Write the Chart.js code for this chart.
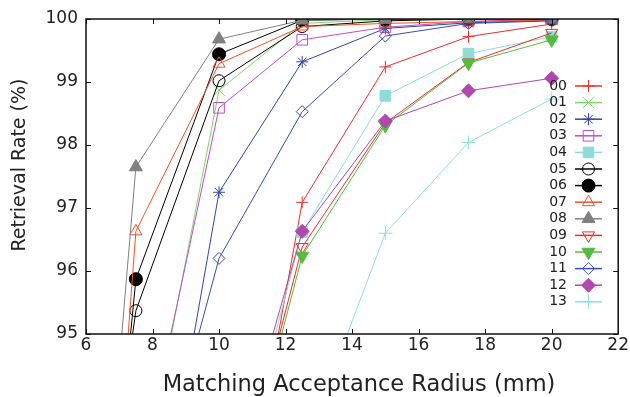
<!DOCTYPE html>
<html>
<head>
<meta charset="utf-8">
<script src="https://cdn.jsdelivr.net/npm/chart.js@4.4.1/dist/chart.umd.min.js"></script>
<style>
  html, body { margin: 0; padding: 0; background: #fff; }
  #wrap { width: 630px; height: 397px; }
</style>
</head>
<body>
<div id="wrap"><canvas id="chart" width="630" height="397"></canvas></div>
<script>
'use strict';

// ── Data ───────────────────────────────────────────────────────────────────
var radius = [5, 7.5, 10, 12.5, 15, 17.5, 20];
var seriesNames = ['00', '01', '02', '03', '04', '05', '06', '07', '08', '09', '10', '11', '12', '13'];

var s00 = [72, 81, 89.8, 97.09, 99.24, 99.72, 99.92];
var s01 = [80, 92.1, 98.87, 99.93, 99.99, 100, 100];
var s02 = [78, 89.75, 97.25, 99.32, 99.85, 99.94, 99.98];
var s03 = [82, 92.4, 98.59, 99.67, 99.87, 99.96, 100];
var s04 = [70, 82, 91.6, 96.62, 98.78, 99.45, 99.72];
var s05 = [86, 95.37, 99.02, 99.88, 99.97, 100, 100];
var s06 = [82.3, 95.87, 99.44, 99.98, 100, 100, 100];
var s07 = [79, 96.63, 99.29, 99.88, 99.93, 99.96, 99.98];
var s08 = [82, 97.65, 99.68, 99.98, 100, 100, 100];
var s09 = [70, 82, 91.3, 96.38, 98.35, 99.31, 99.78];
var s10 = [70, 82, 91.2, 96.24, 98.31, 99.3, 99.67];
var s11 = [80, 91.3, 96.2, 98.53, 99.73, 99.93, 99.97];
var s12 = [70, 80, 92.0, 96.63, 98.38, 98.86, 99.06];
var s13 = [60, 70, 85, 93.1, 96.6, 98.04, 98.73];

var seriesValues = [s00, s01, s02, s03, s04, s05, s06, s07, s08, s09, s10, s11, s12, s13];

var xTicksMin = 6, xTicksMax = 22, xStep = 2;
var yTicksMin = 95, yTicksMax = 100, yStep = 1;

var xTitle = 'Matching Acceptance Radius (mm)';
var yTitle = 'Retrieval Rate (%)';

// ── Marker styles ───────────────────────────────────────────────────────────
var NONE = 'rgba(255,255,255,0)';
var styles = [
  { color: '#e8302a', style: 'cross',    r: 6,   fill: false },
  { color: '#7fd66c', style: 'crossRot', r: 8,   fill: false },
  { color: '#3346a8', style: 'star',     r: 6,   fill: false },
  { color: '#c050c0', style: 'rect',     r: 7.5, fill: false },
  { color: '#8fdcd6', style: 'rect',     r: 7.5, fill: true  },
  { color: '#000000', style: 'circle',   r: 6,   fill: false },
  { color: '#000000', style: 'circle',   r: 6.5, fill: true  },
  { color: '#f0522a', style: 'triangle', r: 7,   fill: false },
  { color: '#808080', style: 'triangle', r: 7.5, fill: true  },
  { color: '#e8302a', style: 'triangle', r: 7,   fill: false, rot: 180 },
  { color: '#55bb3d', style: 'triangle', r: 7.5, fill: true,  rot: 180 },
  { color: '#3a4db0', style: 'rectRot',  r: 6,   fill: false },
  { color: '#b048b0', style: 'rectRot',  r: 7,   fill: true  },
  { color: '#92e0da', style: 'cross',    r: 7,   fill: false }
];

var FONT = '"DejaVu Sans", "Liberation Sans", sans-serif';

var datasets = seriesValues.map(function (vals, i) {
  var st = styles[i];
  return {
    label           : seriesNames[i],
    data            : vals.map(function (v, k) { return { x: radius[k], y: v }; }),
    borderColor     : st.color,
    backgroundColor : st.fill ? st.color : NONE,
    borderWidth     : 1,
    pointStyle      : st.style,
    pointRadius     : st.r,
    pointRotation   : st.rot || 0,
    pointBorderWidth: 1,
    pointBackgroundColor: st.fill ? st.color : NONE,
    pointBorderColor: st.color,
    tension         : 0,
    fill            : false,
    order           : seriesNames.length - i
  };
});

// ── Frame with inward ticks on all four sides ───────────────────────────────
var frameTicks = {
  id: 'frameTicks',
  afterDatasetsDraw: function (chart) {
    var ctx = chart.ctx, a = chart.chartArea;
    var xs = chart.scales.x, ys = chart.scales.y;
    var len = 5;
    ctx.save();
    ctx.strokeStyle = '#111';
    ctx.lineWidth = 1;
    ctx.beginPath();
    xs.ticks.forEach(function (t) {
      var px = Math.round(xs.getPixelForValue(t.value)) + 0.5;
      ctx.moveTo(px, a.bottom); ctx.lineTo(px, a.bottom - len);
      ctx.moveTo(px, a.top);    ctx.lineTo(px, a.top + len);
    });
    ys.ticks.forEach(function (t) {
      var py = Math.round(ys.getPixelForValue(t.value)) + 0.5;
      ctx.moveTo(a.left, py);  ctx.lineTo(a.left + len, py);
      ctx.moveTo(a.right, py); ctx.lineTo(a.right - len, py);
    });
    ctx.stroke();
    ctx.lineWidth = 1.5;
    ctx.strokeRect(a.left, a.top, a.right - a.left, a.bottom - a.top);
    ctx.restore();
  }
};

// ── Axis titles (placed like the reference, not centred on the axes) ──────
var axisTitles = {
  id: 'axisTitles',
  afterDraw: function (chart) {
    var ctx = chart.ctx;
    ctx.save();
    ctx.fillStyle = '#222';
    ctx.textAlign = 'center';
    ctx.textBaseline = 'alphabetic';
    ctx.font = '22.5px ' + FONT;
    ctx.fillText(xTitle, 359, 391);
    ctx.translate(24.5, 165);
    ctx.rotate(-Math.PI / 2);
    ctx.font = '19px ' + FONT;
    ctx.fillText(yTitle, 0, 0);
    ctx.restore();
  }
};

// ── Legend inside the plot: label, then line sample with marker ─────────────
var sideLegend = {
  id: 'sideLegend',
  afterDraw: function (chart) {
    var ctx = chart.ctx;
    var top = 86, step = 16.6, textRight = 567, x0 = 575, x1 = 602;
    ctx.save();
    chart.data.datasets.forEach(function (ds, i) {
      var y = top + i * step;
      ctx.font = '14px ' + FONT;
      ctx.fillStyle = '#222';
      ctx.textAlign = 'right';
      ctx.textBaseline = 'middle';
      ctx.fillText(ds.label, textRight, y);

      ctx.strokeStyle = ds.borderColor;
      ctx.lineWidth = 1.5;
      ctx.beginPath();
      ctx.moveTo(x0, y); ctx.lineTo(x1, y);
      ctx.stroke();

      ctx.lineWidth = 1;
      ctx.fillStyle = ds.pointBackgroundColor;
      Chart.helpers.drawPoint(ctx, {
        pointStyle : ds.pointStyle,
        radius     : ds.pointRadius,
        rotation   : ds.pointRotation,
        borderWidth: 1
      }, (x0 + x1) / 2, y);
    });
    ctx.restore();
  }
};

new Chart(document.getElementById('chart').getContext('2d'), {
  type: 'line',
  data: { datasets: datasets },
  options: {
    responsive: false,
    animation : false,
    layout    : { padding: { left: 0, right: 11, top: 19, bottom: 0 } },
    plugins: {
      legend : { display: false },
      tooltip: { enabled: false }
    },
    scales: {
      x: {
        type : 'linear',
        min  : xTicksMin,
        max  : xTicksMax,
        grid : { display: false, drawTicks: false },
        border: { display: false },
        ticks: { stepSize: xStep, padding: 1, color: '#222', maxRotation: 0,
                 font: { family: FONT, size: 17 } },
        title: { display: false },
        afterFit: function (s) { s.height = 63; }
      },
      y: {
        type : 'linear',
        min  : yTicksMin,
        max  : yTicksMax,
        grid : { display: false, drawTicks: false },
        border: { display: false },
        ticks: { stepSize: yStep, padding: 8, color: '#222',
                 font: { family: FONT, size: 17 } },
        title: { display: false },
        afterFit: function (s) { s.width = 86; }
      }
    }
  },
  plugins: [frameTicks, axisTitles, sideLegend]
});
</script>
</body>
</html>
